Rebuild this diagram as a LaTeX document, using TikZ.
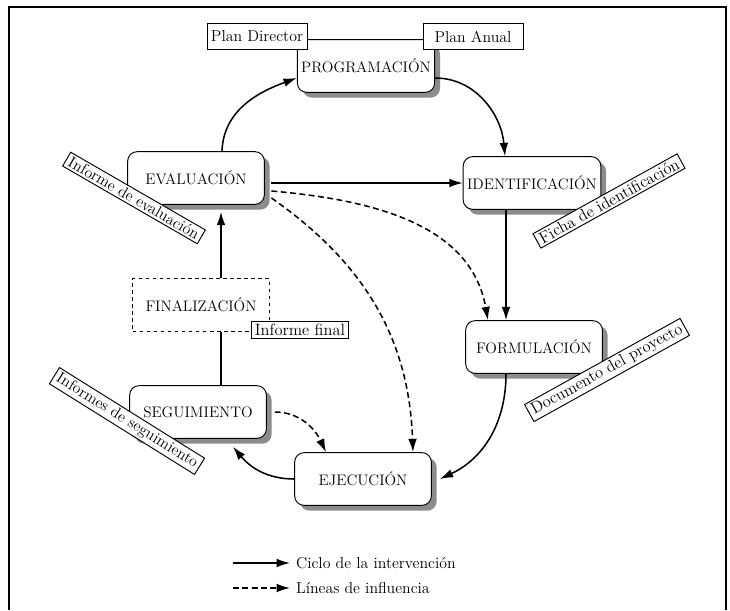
\documentclass[tikz,border=0pt]{standalone}
\usetikzlibrary{arrows.meta,shadows}

\begin{document}
\begin{tikzpicture}[x=0.03cm,y=0.03cm,
  caja/.style={draw,fill=white,line width=0.8pt,minimum width=4.1cm,minimum height=1.58cm,font=\fontsize{13}{15}\selectfont},
  fase/.style={caja,rounded corners=8pt,drop shadow={shadow xshift=0.16cm,shadow yshift=-0.16cm,fill=black!45,opacity=1}},
  fin/.style={caja,dashed},
  doc/.style={draw,fill=white,line width=0.8pt,inner xsep=3pt,inner ysep=2pt,font=\fontsize{14}{16}\selectfont},
  plan/.style={doc,minimum width=3cm,minimum height=0.8cm,font=\fontsize{13.5}{15}\selectfont},
  ciclo/.style={-{Latex[length=4mm,width=2.6mm]},line width=1.3pt},
  influencia/.style={ciclo,dash pattern=on 5pt off 3pt}]

  \useasboundingbox (0,0) rectangle (730,-610);
  \draw[line width=1.5pt] (9,-610) -- (9,-7) -- (726,-7) -- (726,-610);

  % fases del ciclo
  \node[fase] at (366,-66) (prog) {PROGRAMACIÓN};
  \node[fase] at (196,-178) (eval) {EVALUACIÓN};
  \node[fase] at (532,-183) (ident) {IDENTIFICACIÓN};
  \node[fase] at (534,-347) (form) {FORMULACIÓN};
  \node[fase] at (363,-479) (ejec) {EJECUCIÓN};
  \node[fase] at (198,-412) (seg) {SEGUIMIENTO};
  \node[fin] at (201,-305) (final) {FINALIZACIÓN};

  % ciclo de la intervencion
  \path[ciclo]
  ([xshift=0.78cm]eval.north) edge[out=88,in=200] ([yshift=-0.36cm]prog.west)
  ([yshift=-0.36cm]prog.east) edge[out=0,in=95] ([xshift=-0.81cm]ident.north)
  ([xshift=-0.78cm]ident.south) edge ([xshift=-0.84cm]form.north)
  ([xshift=-0.84cm]form.south) edge[out=270,in=25] ([xshift=0.24cm]ejec.east)
  (ejec.west) edge[out=180,in=-50] ([xshift=1.05cm,yshift=-0.24cm]seg.south)
  ([xshift=0.6cm]final.north) edge ([xshift=0.75cm,yshift=-0.21cm]eval.south)
  ([xshift=0.2cm,yshift=-0.15cm]eval.east) edge (ident.west);
  \draw[line width=1.3pt] ([xshift=0.69cm]seg.north) -- ([xshift=0.6cm]final.south);

  % lineas de influencia
  \path[influencia]
  ([xshift=0.2cm,yshift=-0.39cm]eval.east) edge[out=-5,in=100] ([xshift=-1.38cm]form.north)
  ([xshift=0.2cm,yshift=-0.6cm]eval.east) edge[out=-35,in=92] ([xshift=1.5cm]ejec.north)
  ([xshift=0.24cm]seg.east) edge[out=0,in=115] ([xshift=-1.11cm]ejec.north);

  % documentos
  \node[plan] at (257,-36.5) (pdir) {Plan Director};
  \node[plan] at (473,-36.5) (panual) {Plan Anual};
  \node[doc] at (300,-330) (ifin) {Informe final};
  \node[doc,rotate=-30,font=\fontsize{13.5}{15}\selectfont] at (134,-198) (ieval) {Informe de evaluación};
  \node[doc,rotate=29] at (609,-201) (ficha) {Ficha de identificación};
  \node[doc,rotate=29] at (607,-370) (docp) {Documento del proyecto};
  \node[doc,rotate=-32,font=\fontsize{13.5}{15}\selectfont] at (127,-421) (iseg) {Informes de seguimiento};

  % leyenda
  \node[anchor=west,inner sep=5pt,font=\fontsize{13.5}{16}\selectfont] at (290,-563) (ley1) {Ciclo de la intervención};
  \node[anchor=west,inner sep=5pt,font=\fontsize{13.5}{16}\selectfont] at (290,-588) (ley2) {Líneas de influencia};
  \coordinate (c1) at (233,-563);
  \coordinate (c2) at (233,-588);
  \draw[ciclo] (c1) -- (ley1.west);
  \draw[influencia] (c2) -- (ley2.west);
\end{tikzpicture}
\end{document}
